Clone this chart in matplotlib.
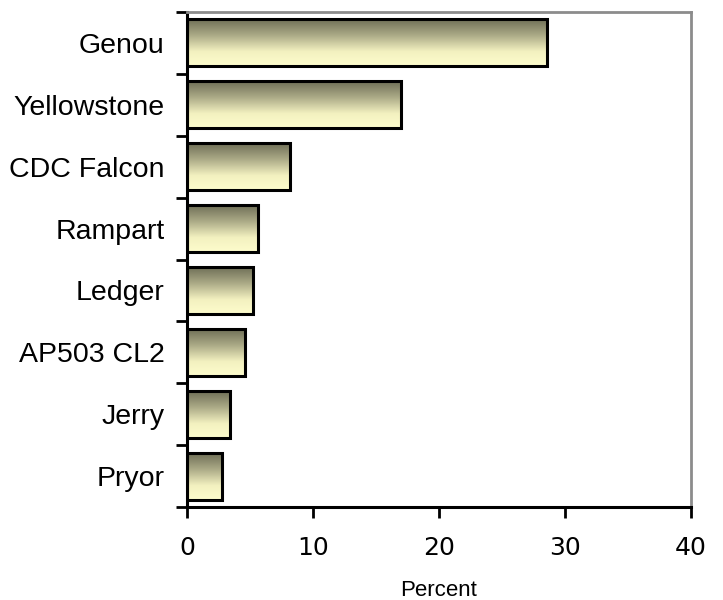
import numpy as np
import matplotlib
matplotlib.use("Agg")
import matplotlib.pyplot as plt
from matplotlib.colors import LinearSegmentedColormap

# data
varieties = ['Genou', 'Yellowstone', 'CDC Falcon', 'Rampart', 'Ledger',
             'AP503 CL2', 'Jerry', 'Pryor']
percent = [28.6, 17.0, 8.2, 5.6, 5.2, 4.6, 3.4, 2.8]

fig = plt.figure(figsize=(7.23, 6.0), dpi=100)
ax = fig.add_axes([0.2587, 0.155, 0.697, 0.825])

# gradient: dark olive on top -> pale yellow below
cmap = LinearSegmentedColormap.from_list(
    'bar', [(0.0, '#fdfccc'), (0.3, '#f3f1c0'), (0.65, '#aaa986'), (1.0, '#6c6c54')])
grad = np.linspace(0, 1, 64).reshape(-1, 1)

y = np.arange(len(varieties))[::-1]
h = 0.76
bars = ax.barh(y, percent, height=h, color='none', edgecolor='black',
               linewidth=2.2, zorder=3)
for b in bars:
    x0, y0 = b.get_x(), b.get_y()
    w, hh = b.get_width(), b.get_height()
    im = ax.imshow(grad, cmap=cmap, aspect='auto', origin='lower',
                   extent=(x0, x0 + w, y0, y0 + hh), zorder=2,
                   interpolation='bilinear')
    im.set_clip_path(b)

ax.set_xlim(0, 40)
ax.set_ylim(-0.5, len(varieties) - 0.5)
ax.set_xticks([0, 10, 20, 30, 40])
ax.tick_params(axis='x', labelsize=18, length=8, width=2, direction='out', pad=13)

ax.set_yticks(y)
ax.set_yticklabels(varieties, fontsize=20.5, family='Liberation Sans')
ax.tick_params(axis='y', length=0, pad=16)
ax.set_yticks(np.arange(-0.5, len(varieties), 1.0), minor=True)
ax.tick_params(axis='y', which='minor', length=8, width=2, direction='out')

for s in ['left', 'bottom']:
    ax.spines[s].set_linewidth(2.2)
    ax.spines[s].set_color('black')
for s in ['top', 'right']:
    ax.spines[s].set_linewidth(2)
    ax.spines[s].set_color('#8c8c8c')

ax.set_xlabel('Percent', fontsize=16, family='Liberation Sans', labelpad=14)

fig.savefig('out.png', dpi=100)
